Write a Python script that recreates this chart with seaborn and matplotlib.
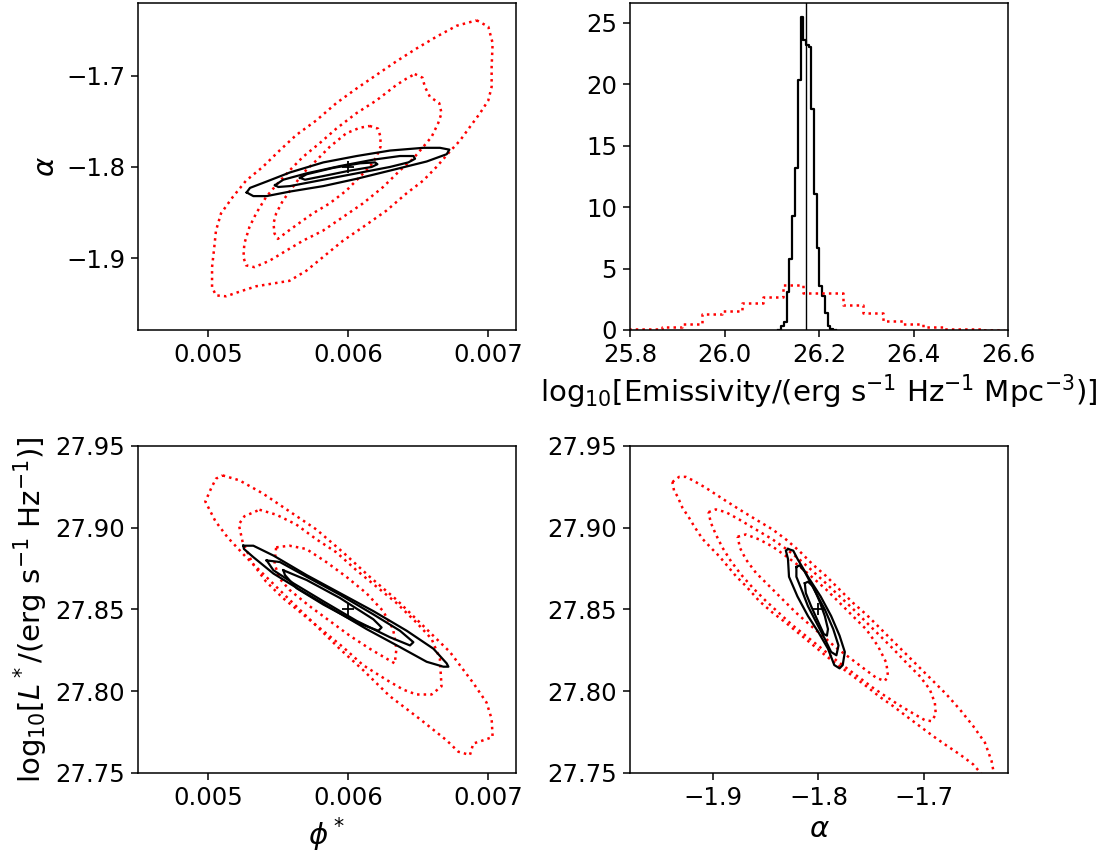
import numpy as np
import pandas as pd
import matplotlib
matplotlib.use("Agg")
import matplotlib.pyplot as plt
import seaborn as sns

# ---------------- data ----------------
# Histogram (top right): emissivity posterior, densities per bin
emis_black_edges = [26.114, 26.120, 26.126, 26.132, 26.137, 26.143, 26.149, 26.155, 26.161,
                    26.166, 26.172, 26.178, 26.184, 26.190, 26.195, 26.201, 26.207, 26.213,
                    26.219, 26.224, 26.230, 26.236]
emis_black_heights = [0.0, 0.33, 0.68, 3.1, 5.8, 9.3, 13.2, 20.3, 25.5, 23.6, 23.2, 23.0, 18.0,
                      11.1, 6.7, 3.6, 2.8, 1.35, 0.3, 0.1, 0.0]
emis_red_edges = [25.783, 25.8255, 25.868, 25.9105, 25.953, 25.9955, 26.038, 26.0805, 26.123,
                  26.1655, 26.208, 26.2505, 26.293, 26.3355, 26.378, 26.4205, 26.463, 26.5055,
                  26.548, 26.5905]
emis_red_heights = [0.05, 0.05, 0.22, 0.49, 1.28, 1.52, 2.17, 2.71, 3.64, 3.04, 3.0, 2.0, 1.36,
                    0.76, 0.49, 0.27, 0.08, 0.06, 0.0]
emis_true = 26.172

# True parameter values (plus markers)
phi_true = 0.006
alpha_true = -1.80
logL_true = 27.85

# --- Top left: alpha vs phi* ---
tl_red1_phi = [0.006919, 0.007002, 0.007033, 0.007026, 0.007026, 0.007002, 0.006943, 0.006871, 0.006800,
               0.006728, 0.006632, 0.006537, 0.006418, 0.006274, 0.006107, 0.005964, 0.005821, 0.005702,
               0.005582, 0.005463, 0.005344, 0.005224, 0.005129, 0.005057, 0.005029, 0.005029, 0.005045,
               0.005057, 0.005093, 0.005177, 0.005272, 0.005391, 0.005511, 0.005630, 0.005773, 0.005916,
               0.006060, 0.006203, 0.006346, 0.006489, 0.006632, 0.006776, 0.006919]
tl_red1_alpha = [-1.639, -1.646, -1.664, -1.690, -1.712, -1.727, -1.741, -1.756, -1.771, -1.783, -1.800,
                 -1.815, -1.829, -1.848, -1.866, -1.881, -1.899, -1.914, -1.925, -1.928, -1.931, -1.937,
                 -1.942, -1.941, -1.932, -1.910, -1.888, -1.870, -1.851, -1.833, -1.815, -1.800, -1.782,
                 -1.765, -1.749, -1.730, -1.714, -1.699, -1.684, -1.670, -1.657, -1.645, -1.639]
tl_red2_phi = [0.006477, 0.006532, 0.006549, 0.006585, 0.006652, 0.006668, 0.006644, 0.006597, 0.006537,
               0.006465, 0.006370, 0.006251, 0.006107, 0.005964, 0.005821, 0.005678, 0.005558, 0.005439,
               0.005332, 0.005272, 0.005253, 0.005260, 0.005296, 0.005344, 0.005415, 0.005487, 0.005582,
               0.005678, 0.005797, 0.005916, 0.006060, 0.006203, 0.006346, 0.006418, 0.006477]
tl_red2_alpha = [-1.698, -1.702, -1.712, -1.723, -1.730, -1.741, -1.752, -1.767, -1.778, -1.791, -1.804,
                 -1.822, -1.840, -1.855, -1.870, -1.881, -1.892, -1.903, -1.910, -1.908, -1.899, -1.884,
                 -1.866, -1.851, -1.833, -1.820, -1.804, -1.789, -1.774, -1.758, -1.741, -1.727, -1.710,
                 -1.703, -1.698]
tl_red3_phi = [0.006155, 0.006215, 0.006232, 0.006232, 0.006203, 0.006155, 0.006084, 0.005988, 0.005869,
               0.005749, 0.005630, 0.005558, 0.005499, 0.005475, 0.005468, 0.005487, 0.005535, 0.005606,
               0.005678, 0.005773, 0.005869, 0.005988, 0.006084, 0.006155]
tl_red3_alpha = [-1.755, -1.758, -1.767, -1.778, -1.789, -1.800, -1.811, -1.826, -1.840, -1.851, -1.864,
                 -1.872, -1.879, -1.873, -1.862, -1.851, -1.837, -1.822, -1.807, -1.793, -1.778, -1.763,
                 -1.757, -1.755]
tl_blk1_phi = [0.005276, 0.005300, 0.005419, 0.005586, 0.005824, 0.006062, 0.006300, 0.006538, 0.006657,
               0.006724, 0.006705, 0.006562, 0.006300, 0.006062, 0.005824, 0.005586, 0.005419, 0.005324,
               0.005276]
tl_blk1_alpha = [-1.828, -1.823, -1.816, -1.806, -1.795, -1.788, -1.782, -1.779, -1.779, -1.781, -1.786,
                 -1.794, -1.804, -1.813, -1.821, -1.827, -1.832, -1.832, -1.828]
tl_blk2_phi = [0.005479, 0.005538, 0.005705, 0.005943, 0.006181, 0.006371, 0.006467, 0.006479, 0.006431,
               0.006300, 0.006062, 0.005824, 0.005586, 0.005502, 0.005479]
tl_blk2_alpha = [-1.820, -1.814, -1.807, -1.799, -1.792, -1.788, -1.788, -1.791, -1.795, -1.800, -1.807,
                 -1.814, -1.821, -1.822, -1.820]
tl_blk3_phi = [0.005657, 0.005705, 0.005895, 0.006086, 0.006193, 0.006210, 0.006169, 0.006014, 0.005824,
               0.005693, 0.005657]
tl_blk3_alpha = [-1.812, -1.808, -1.801, -1.796, -1.795, -1.797, -1.800, -1.804, -1.810, -1.814, -1.812]

# --- Bottom left: log L* vs phi* ---
bl_red1_phi = [0.005105, 0.005224, 0.005391, 0.005582, 0.005773, 0.005964, 0.006155, 0.006346, 0.006537,
               0.006728, 0.006895, 0.006990, 0.007026, 0.007033, 0.006967, 0.006895, 0.006871, 0.006788,
               0.006704, 0.006513, 0.006298, 0.006107, 0.005940, 0.005726, 0.005558, 0.005415, 0.005272,
               0.005141, 0.005053, 0.004981, 0.005022, 0.005057, 0.005105]
bl_red1_logL = [27.932, 27.929, 27.921, 27.910, 27.899, 27.885, 27.870, 27.856, 27.840, 27.824, 27.805,
                27.793, 27.783, 27.772, 27.770, 27.768, 27.761, 27.763, 27.770, 27.783, 27.797, 27.813,
                27.826, 27.844, 27.858, 27.870, 27.882, 27.894, 27.904, 27.916, 27.924, 27.930, 27.932]
bl_red2_phi = [0.005368, 0.005487, 0.005630, 0.005773, 0.005916, 0.006060, 0.006203, 0.006346, 0.006489,
               0.006597, 0.006656, 0.006668, 0.006597, 0.006489, 0.006394, 0.006274, 0.006107, 0.005964,
               0.005821, 0.005678, 0.005535, 0.005415, 0.005320, 0.005248, 0.005220, 0.005260, 0.005368]
bl_red2_logL = [27.911, 27.908, 27.902, 27.893, 27.885, 27.874, 27.864, 27.854, 27.842, 27.832, 27.820,
                27.803, 27.798, 27.798, 27.801, 27.807, 27.816, 27.827, 27.837, 27.847, 27.857, 27.867,
                27.878, 27.891, 27.902, 27.907, 27.911]
bl_red3_phi = [0.005487, 0.005582, 0.005702, 0.005845, 0.005988, 0.006131, 0.006251, 0.006322, 0.006346,
               0.006334, 0.006274, 0.006155, 0.006012, 0.005869, 0.005726, 0.005582, 0.005511, 0.005475,
               0.005487]
bl_red3_logL = [27.888, 27.889, 27.887, 27.879, 27.870, 27.860, 27.849, 27.838, 27.826, 27.817, 27.820,
                27.826, 27.834, 27.843, 27.852, 27.862, 27.869, 27.878, 27.888]
bl_blk1_phi = [0.005252, 0.005324, 0.005467, 0.005705, 0.005943, 0.006181, 0.006419, 0.006610, 0.006705,
               0.006717, 0.006681, 0.006562, 0.006371, 0.006133, 0.005895, 0.005657, 0.005467, 0.005324,
               0.005257, 0.005252]
bl_blk1_logL = [27.889, 27.889, 27.883, 27.871, 27.860, 27.849, 27.837, 27.826, 27.817, 27.815, 27.815,
                27.818, 27.827, 27.838, 27.850, 27.862, 27.872, 27.882, 27.887, 27.889]
bl_blk2_phi = [0.005419, 0.005514, 0.005705, 0.005943, 0.006181, 0.006371, 0.006467, 0.006443, 0.006300,
               0.006062, 0.005824, 0.005610, 0.005467, 0.005419]
bl_blk2_logL = [27.880, 27.879, 27.870, 27.859, 27.847, 27.837, 27.830, 27.828, 27.833, 27.843, 27.855,
                27.866, 27.874, 27.880]
bl_blk3_phi = [0.005538, 0.005705, 0.005943, 0.006181, 0.006240, 0.006217, 0.006062, 0.005824, 0.005633,
               0.005550, 0.005538]
bl_blk3_logL = [27.874, 27.868, 27.857, 27.844, 27.839, 27.837, 27.842, 27.853, 27.863, 27.871, 27.874]

# --- Bottom right: log L* vs alpha ---
br_red1_alpha = [-1.9388, -1.9324, -1.9260, -1.9197, -1.9070, -1.8911, -1.8752, -1.8594, -1.8435,
                 -1.8308, -1.8181, -1.8054, -1.7927, -1.7800, -1.7673, -1.7546, -1.7419, -1.7292,
                 -1.7165, -1.7038, -1.6911, -1.6784, -1.6657, -1.6530, -1.6419, -1.6356, -1.6324,
                 -1.6435, -1.6530, -1.6657, -1.6784, -1.6911, -1.7038, -1.7165, -1.7292, -1.7419,
                 -1.7546, -1.7673, -1.7800, -1.7927, -1.8022, -1.8117, -1.8213, -1.8308, -1.8435,
                 -1.8562, -1.8689, -1.8784, -1.8863, -1.8943, -1.9006, -1.9102, -1.9181, -1.9229,
                 -1.9292, -1.9340, -1.9371, -1.9388]
br_red1_logL = [27.9279, 27.9311, 27.9311, 27.9291, 27.9244, 27.9177, 27.9112, 27.9050, 27.8989,
                27.8928, 27.8857, 27.8775, 27.8704, 27.8622, 27.8541, 27.8469, 27.8388, 27.8306,
                27.8225, 27.8143, 27.8062, 27.7980, 27.7888, 27.7786, 27.7685, 27.7572, 27.7460,
                27.7480, 27.7552, 27.7613, 27.7668, 27.7725, 27.7786, 27.7847, 27.7909, 27.7966,
                27.8031, 27.8092, 27.8153, 27.8215, 27.8266, 27.8317, 27.8367, 27.8418, 27.8480,
                27.8551, 27.8643, 27.8704, 27.8765, 27.8826, 27.8867, 27.8932, 27.9009, 27.9061,
                27.9122, 27.9193, 27.9224, 27.9279]
br_red2_alpha = [-1.9045, -1.8975, -1.8879, -1.8752, -1.8594, -1.8435, -1.8308, -1.8181, -1.8054,
                 -1.7927, -1.7800, -1.7673, -1.7546, -1.7419, -1.7292, -1.7165, -1.7038, -1.6943,
                 -1.6895, -1.6886, -1.6927, -1.6990, -1.7101, -1.7229, -1.7356, -1.7483, -1.7610,
                 -1.7737, -1.7864, -1.7990, -1.8117, -1.8244, -1.8371, -1.8498, -1.8625, -1.8736,
                 -1.8831, -1.8911, -1.8975, -1.9022, -1.9045]
br_red2_logL = [27.9095, 27.9112, 27.9095, 27.9050, 27.8989, 27.8928, 27.8871, 27.8806, 27.8734,
                27.8659, 27.8581, 27.8504, 27.8422, 27.8341, 27.8260, 27.8174, 27.8092, 27.8011,
                27.7929, 27.7858, 27.7817, 27.7823, 27.7864, 27.7913, 27.7966, 27.8021, 27.8082,
                27.8143, 27.8205, 27.8272, 27.8337, 27.8402, 27.8476, 27.8551, 27.8633, 27.8714,
                27.8795, 27.8877, 27.8959, 27.9030, 27.9095]
br_red3_alpha = [-1.8768, -1.8689, -1.8562, -1.8435, -1.8308, -1.8181, -1.8054, -1.7927, -1.7800,
                 -1.7673, -1.7546, -1.7435, -1.7356, -1.7340, -1.7371, -1.7451, -1.7578, -1.7705,
                 -1.7832, -1.7959, -1.8086, -1.8213, -1.8340, -1.8467, -1.8594, -1.8689, -1.8746,
                 -1.8768]
br_red3_logL = [27.8945, 27.8959, 27.8928, 27.8884, 27.8826, 27.8765, 27.8694, 27.8622, 27.8541,
                27.8459, 27.8378, 27.8276, 27.8174, 27.8092, 27.8062, 27.8082, 27.8143, 27.8205,
                27.8266, 27.8337, 27.8408, 27.8480, 27.8561, 27.8643, 27.8724, 27.8806, 27.8877,
                27.8945]
br_blk1_alpha = [-1.829, -1.824, -1.820, -1.810, -1.798, -1.788, -1.780, -1.775, -1.777, -1.780, -1.785,
                 -1.791, -1.800, -1.810, -1.820, -1.828, -1.829, -1.831, -1.829]
br_blk1_logL = [27.887, 27.886, 27.881, 27.870, 27.858, 27.846, 27.834, 27.824, 27.816, 27.814, 27.816,
                27.826, 27.836, 27.846, 27.858, 27.870, 27.881, 27.886, 27.887]
br_blk2_alpha = [-1.821, -1.818, -1.813, -1.804, -1.794, -1.786, -1.781, -1.783, -1.788, -1.794, -1.802,
                 -1.810, -1.816, -1.821, -1.821]
br_blk2_logL = [27.876, 27.877, 27.873, 27.862, 27.850, 27.838, 27.828, 27.822, 27.824, 27.832, 27.842,
                27.852, 27.862, 27.870, 27.876]
br_blk3_alpha = [-1.813, -1.810, -1.805, -1.799, -1.794, -1.791, -1.792, -1.795, -1.800, -1.807, -1.812,
                 -1.813]
br_blk3_logL = [27.866, 27.867, 27.864, 27.855, 27.846, 27.838, 27.834, 27.835, 27.842, 27.852, 27.860,
                27.866]

phi_ticks = [0.005, 0.006, 0.007]
alpha_ticks = [-1.9, -1.8, -1.7]
logL_ticks = [27.75, 27.80, 27.85, 27.90, 27.95]
emis_ticks = [25.8, 26.0, 26.2, 26.4, 26.6]
dens_ticks = [0, 5, 10, 15, 20, 25]

# ---------------- styling ----------------
plt.rcParams.update({
    "font.family": ["DejaVu Sans"],
    "xtick.labelsize": 17.6,
    "ytick.labelsize": 17.6,
    "axes.labelsize": 21.1,
    "axes.linewidth": 1.1,
    "xtick.major.size": 4.8,
    "ytick.major.size": 4.8,
    "xtick.major.width": 1.1,
    "ytick.major.width": 1.1,
    "xtick.major.pad": 4.5,
    "ytick.major.pad": 4.5,
    "mathtext.fontset": "dejavusans",
})

RED_KW = dict(color="red", linestyle=":", linewidth=1.8)
BLK_KW = dict(color="black", linestyle="-", linewidth=1.6)


def contour(ax, xs, ys, kw):
    sns.lineplot(x=np.asarray(xs), y=np.asarray(ys), sort=False, estimator=None, ax=ax, **kw)


def step_hist(ax, edges, heights, **kw):
    edges = list(edges)
    centers = [(a + b) / 2 for a, b in zip(edges[:-1], edges[1:])]
    df = pd.DataFrame({"val": centers, "w": heights})
    sns.histplot(data=df, x="val", weights="w", bins=edges, element="step",
                 fill=False, ax=ax, **kw)


fig, axes = plt.subplots(2, 2, figsize=(11.03, 8.56), dpi=100)
fig.subplots_adjust(left=0.1251, right=0.9139, top=0.9965, bottom=0.0970, wspace=0.3016, hspace=0.3547)
ax_tl, ax_tr = axes[0]
ax_bl, ax_br = axes[1]

# Top left
for xs, ys in [(tl_red1_phi, tl_red1_alpha), (tl_red2_phi, tl_red2_alpha), (tl_red3_phi, tl_red3_alpha)]:
    contour(ax_tl, xs, ys, RED_KW)
for xs, ys in [(tl_blk1_phi, tl_blk1_alpha), (tl_blk2_phi, tl_blk2_alpha), (tl_blk3_phi, tl_blk3_alpha)]:
    contour(ax_tl, xs, ys, BLK_KW)
sns.scatterplot(x=[phi_true], y=[alpha_true], marker="+", s=80, color="black", linewidth=1.3, ax=ax_tl)
ax_tl.set_xlim(0.0045, 0.0072)
ax_tl.set_ylim(-1.979, -1.620)
ax_tl.set_xticks(phi_ticks)
ax_tl.set_yticks(alpha_ticks)
ax_tl.set_xlabel("")
ax_tl.set_ylabel(r"$\alpha$")

# Top right: histograms
step_hist(ax_tr, emis_black_edges, emis_black_heights, color="black", linewidth=1.6)
step_hist(ax_tr, emis_red_edges, emis_red_heights, color="red", linestyle=":", linewidth=1.8)
ax_tr.axvline(emis_true, color="black", linewidth=1.0)
ax_tr.set_xlim(25.8, 26.6)
ax_tr.set_ylim(0, 26.6)
ax_tr.set_xticks(emis_ticks)
ax_tr.set_yticks(dens_ticks)
ax_tr.set_ylabel("")
ax_tr.set_xlabel(r"log$_{10}$[Emissivity/(erg s$^{-1}$ Hz$^{-1}$ Mpc$^{-3}$)]")

# Bottom left
for xs, ys in [(bl_red1_phi, bl_red1_logL), (bl_red2_phi, bl_red2_logL), (bl_red3_phi, bl_red3_logL)]:
    contour(ax_bl, xs, ys, RED_KW)
for xs, ys in [(bl_blk1_phi, bl_blk1_logL), (bl_blk2_phi, bl_blk2_logL), (bl_blk3_phi, bl_blk3_logL)]:
    contour(ax_bl, xs, ys, BLK_KW)
sns.scatterplot(x=[phi_true], y=[logL_true], marker="+", s=80, color="black", linewidth=1.3, ax=ax_bl)
ax_bl.set_xlim(0.0045, 0.0072)
ax_bl.set_ylim(27.75, 27.95)
ax_bl.set_xticks(phi_ticks)
ax_bl.set_yticks(logL_ticks)
ax_bl.set_yticklabels([f"{v:.2f}" for v in logL_ticks])
ax_bl.set_xlabel(r"$\phi^*$")
ax_bl.set_ylabel(r"log$_{10}$[$L^*$/(erg s$^{-1}$ Hz$^{-1}$)]")

# Bottom right
for xs, ys in [(br_red1_alpha, br_red1_logL), (br_red2_alpha, br_red2_logL), (br_red3_alpha, br_red3_logL)]:
    contour(ax_br, xs, ys, RED_KW)
for xs, ys in [(br_blk1_alpha, br_blk1_logL), (br_blk2_alpha, br_blk2_logL), (br_blk3_alpha, br_blk3_logL)]:
    contour(ax_br, xs, ys, BLK_KW)
sns.scatterplot(x=[alpha_true], y=[logL_true], marker="+", s=80, color="black", linewidth=1.3, ax=ax_br)
ax_br.set_xlim(-1.979, -1.620)
ax_br.set_ylim(27.75, 27.95)
ax_br.set_xticks(alpha_ticks)
ax_br.set_yticks(logL_ticks)
ax_br.set_yticklabels([f"{v:.2f}" for v in logL_ticks])
ax_br.set_xlabel(r"$\alpha$")
ax_br.set_ylabel("")

fig.savefig("out.png", dpi=100)
